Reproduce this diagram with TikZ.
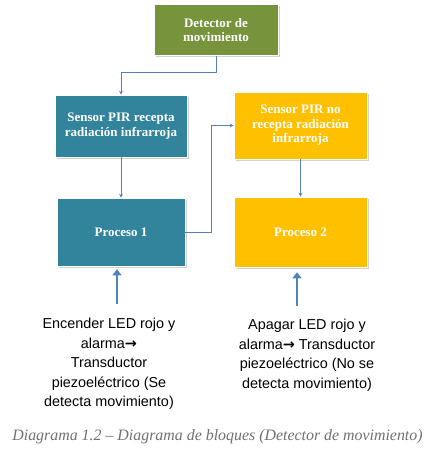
\documentclass[tikz,border=0pt]{standalone}
\usepackage{fontspec}
\setmainfont{Liberation Serif}
\setsansfont{Liberation Sans}
\newfontfamily\symfont{DejaVu Sans}
\usetikzlibrary{arrows.meta,positioning,shadows,calc}

\definecolor{olivo}{HTML}{77933C}
\definecolor{azulpet}{HTML}{31849B}
\definecolor{ambar}{HTML}{FFC000}
\definecolor{flecha}{HTML}{4F81BD}
\definecolor{leyenda}{HTML}{707070}

\begin{document}
\begin{tikzpicture}[x=1pt,y=-1pt,
    bloque/.style={draw=white,line width=.6pt,text=white,align=center,
      font=\bfseries\fontsize{13}{14.5}\selectfont,inner sep=0pt,
      drop shadow={shadow xshift=1.5pt,shadow yshift=-1.5pt,opacity=.35}},
    conector/.style={draw=flecha!85!gray,line width=.8pt,-{Stealth[length=4pt,width=4pt]}},
    flechota/.style={draw=flecha,line width=2.6pt,-{Triangle[length=6pt,width=9pt]}},
    nota/.style={align=center,font=\sffamily\fontsize{14.4}{19.5}\selectfont}]
    \useasboundingbox (0,0) rectangle (432,453);
    % bloques
    \node[bloque,fill=olivo,minimum width=124pt,minimum height=51pt] (detector) at (216,30)
      {Detector de\\movimiento};
    \node[bloque,fill=azulpet,minimum width=132pt,minimum height=62pt] (sensorsi) at (121,126)
      {Sensor PIR recepta\\radiación infrarroja};
    \node[bloque,fill=ambar,minimum width=133pt,minimum height=67pt] (sensorno) at (300.5,125.5)
      {Sensor PIR no\\recepta radiación\\infrarroja};
    \node[bloque,fill=azulpet,minimum width=128pt,minimum height=68pt] (proc1) at (121,232)
      {Proceso 1};
    \node[bloque,fill=ambar,minimum width=133pt,minimum height=70pt] (proc2) at (300.5,232)
      {Proceso 2};
    % textos
    \node[nota] (txtsi) at (109,364)
      {Encender LED rojo y\\alarma{\symfont\bfseries →}\\Transductor\\piezoeléctrico (Se\\detecta movimiento)};
    \node[nota] (txtno) at (307,355.5)
      {Apagar LED rojo y\\alarma{\symfont\bfseries →} Transductor\\piezoeléctrico (No se\\detecta movimiento)};
    \node[font=\itshape\fontsize{15.9}{18}\selectfont,text=leyenda] (leyenda) at (217.5,437)
      {Diagrama 1.2 -- Diagrama de bloques (Detector de movimiento)};
    % conectores
    \coordinate (k1) at (216,72);
    \draw[conector] (detector.south) -- (k1) -| (sensorsi.north);
    \draw[conector] (sensorsi.south) -- (proc1.north);
    \draw[conector] (proc1.east) -- ++(26,0) |- (sensorno.west);
    \draw[conector] (sensorno.south) -- (proc2.north);
    \coordinate (p1) at (117,304);
    \coordinate (p2) at (297,306);
    \draw[flechota,shorten >=3pt] (p1) -- (p1 |- proc1.south);
    \draw[flechota,shorten >=5pt] (p2) -- (p2 |- proc2.south);
\end{tikzpicture}
\end{document}
